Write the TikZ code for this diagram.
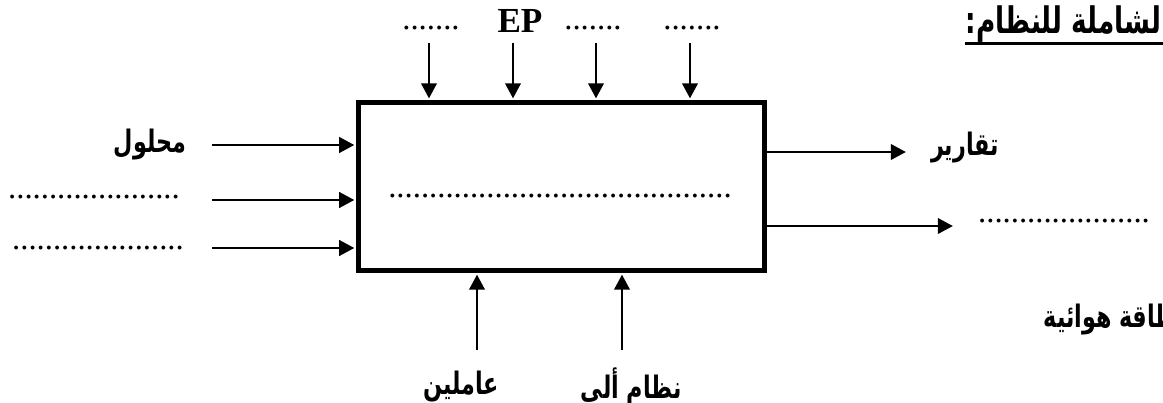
\documentclass[tikz,border=0pt]{standalone}
\usepackage{fontspec}
\setmainfont{Liberation Serif}
\newfontfamily\arabicfont[Script=Arabic,FakeStretch=0.72]{DejaVu Sans}
\TeXXeTstate=1
\usetikzlibrary{arrows.meta}
\newcommand\artxt[1]{{\arabicfont\bfseries\beginR #1\endR}}
\begin{document}
\begin{tikzpicture}[x=0.01cm,y=-0.01cm,
  arr/.style={line width=0.75pt,-{Triangle[length=4.3pt,width=4.4pt]},shorten >=0.6pt},
  lab/.style={inner sep=0pt,font=\fontsize{8.8}{10}\selectfont},
  dotlab/.style={inner sep=0pt,anchor=base,font=\fontsize{9.3}{11}\selectfont},
  eplab/.style={inner sep=0pt,anchor=base,font=\fontsize{10}{11}\selectfont\bfseries}]
\useasboundingbox (0,0) rectangle (1163,403);
\clip (0,0) rectangle (1163,403);

% main box
\node[draw,line width=1.4pt,minimum width=4.05cm,minimum height=1.67cm,inner sep=0pt] (box) at (561.5,186.5) {};
\node[dotlab] (mid) at (560,197) {..........................................};

% top controls
\coordinate (tA) at (429,43);
\coordinate (tB) at (513,43);
\coordinate (tC) at (596,43);
\coordinate (tD) at (690,43);
\draw[arr] (tA) -- (tA |- box.north);
\draw[arr] (tB) -- (tB |- box.north);
\draw[arr] (tC) -- (tC |- box.north);
\draw[arr] (tD) -- (tD |- box.north);
\node[dotlab] (ltA) at (431,30) {.......};
\node[eplab] (ltB) at (520,32) {EP};
\node[dotlab] (ltC) at (593,30) {.......};
\node[dotlab] (ltD) at (692,30) {.......};

% left inputs
\coordinate (lA) at (212,145);
\coordinate (lB) at (212,200);
\coordinate (lC) at (212,248);
\draw[arr] (lA) -- (lA -| box.west);
\draw[arr] (lB) -- (lB -| box.west);
\draw[arr] (lC) -- (lC -| box.west);
\node[lab] (llA) at (150,145) {\artxt{محلول}};
\node[dotlab] (llB) at (94,199) {.....................};
\node[dotlab] (llC) at (98,249) {.....................};

% right outputs
\coordinate (rA) at (908,152);
\coordinate (rB) at (955,226);
\draw[arr] (rA -| box.east) -- (rA);
\draw[arr] (rB -| box.east) -- (rB);
\node[lab] (lrA) at (965,148) {\artxt{تقارير}};
\node[dotlab] (lrB) at (1064,222) {.....................};

% bottom mechanisms
\coordinate (bA) at (477,350);
\coordinate (bB) at (622,350);
\draw[arr] (bA) -- (bA |- box.south);
\draw[arr] (bB) -- (bB |- box.south);
\node[lab] (lbA) at (461,387) {\artxt{عاملين}};
\node[lab] (lbB) at (631,387) {\artxt{نظام ألي}};

% title (cut by the page edge, as in the reference)
\node[inner sep=0pt,anchor=base west,font=\fontsize{10.4}{12}\selectfont] (title) at (965,33) {\artxt{الوظيفة الشاملة للنظام:}};
\draw[line width=0.8pt] ([yshift=-2.9pt]title.base west) -- ([yshift=-2.9pt]title.base east);

% extra label (cut by the page edge, as in the reference)
\node[inner sep=0pt,anchor=base west,font=\fontsize{8.8}{10}\selectfont] (extra) at (1043,327) {\artxt{طاقة هوائية}};
\end{tikzpicture}
\end{document}
